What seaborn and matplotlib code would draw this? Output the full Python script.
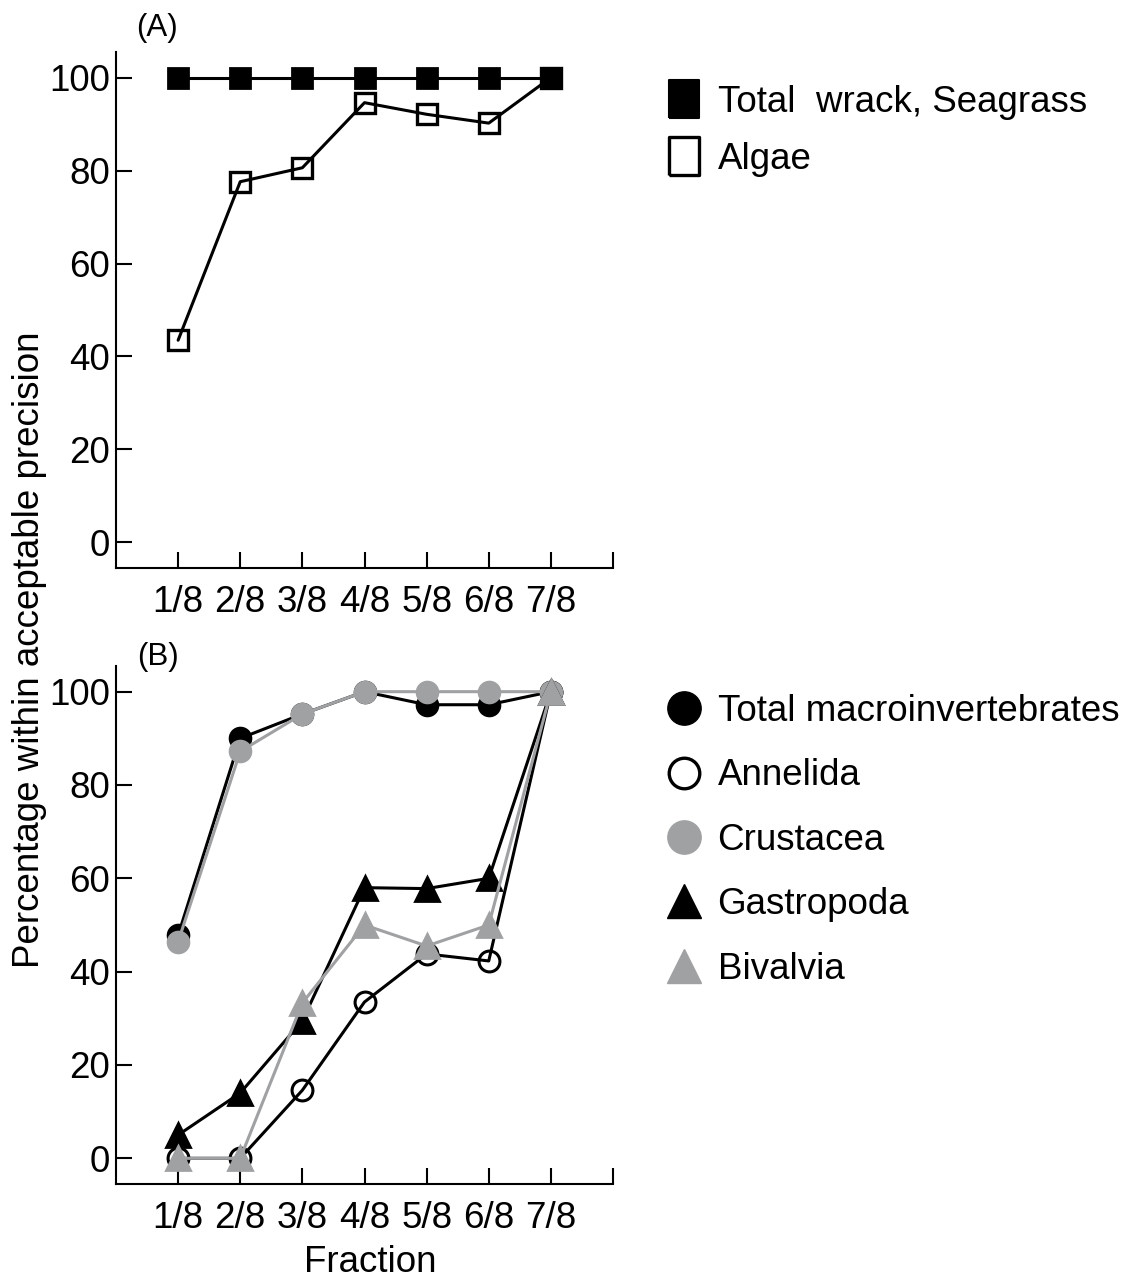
import matplotlib
matplotlib.use("Agg")
import matplotlib.pyplot as plt
from matplotlib import font_manager
from matplotlib.lines import Line2D
import pandas as pd
import seaborn as sns

# Sub-sample fraction of the wrack line
fractions = ["1/8", "2/8", "3/8", "4/8", "5/8", "6/8", "7/8"]
frac_pos = [1, 2, 3, 4, 5, 6, 7]

# (A) wrack components: % of estimates within acceptable precision
seagrass = [100, 100, 100, 100, 100, 100, 100]
algae = [43.5, 77.6, 80.6, 94.6, 92.1, 90.2, 100]

# (B) macroinvertebrate groups
total_macro = [47.8, 90.0, 95.2, 100, 97.2, 97.2, 100]
annelida = [0, 0, 14.6, 33.5, 43.8, 42.3, 100]
crustacea = [46.4, 87.2, 95.2, 100, 100, 100, 100]
gastropoda = [5, 14, 29.5, 58, 57.8, 60, 100]
bivalvia = [0, 0, 33.3, 50, 45.5, 50, 100]

sns.set_style("ticks")
names = {f.name for f in font_manager.fontManager.ttflist}
main_font = "Liberation Sans" if "Liberation Sans" in names else "DejaVu Sans"
tick_font = "Liberation Sans Narrow" if "Liberation Sans Narrow" in names else main_font
plt.rcParams["font.family"] = [main_font, "DejaVu Sans"]
plt.rcParams["text.color"] = "black"
plt.rcParams["axes.labelcolor"] = "black"
plt.rcParams["xtick.color"] = "black"
plt.rcParams["ytick.color"] = "black"

GRAY = "#a0a1a3"
FS = 26.5
LW = 2.2

fig = plt.figure(figsize=(11.33, 12.79), dpi=100)
W, H = 1133, 1279


def px_axes(left, top, right, bottom):
    return fig.add_axes([left / W, 1 - bottom / H, (right - left) / W, (bottom - top) / H])


axA = px_axes(116, 52, 613, 568)
axB = px_axes(116, 666, 613, 1184)


def series(ax, values, color, marker, ms, mfc, mec, mew=2.0, z=2):
    df = pd.DataFrame({"fraction": frac_pos, "pct": values})
    sns.lineplot(data=df, x="fraction", y="pct", ax=ax, color=color, lw=LW,
                 marker=marker, markersize=ms, markerfacecolor=mfc,
                 markeredgecolor=mec, markeredgewidth=mew, zorder=z,
                 legend=False)


# Panel A
series(axA, seagrass, "black", "s", 15, "black", "black", z=3)
series(axA, algae, "black", "s", 15, "none", "black", mew=2.4, z=2)

# Panel B
series(axB, total_macro, "black", "o", 15, "black", "black", z=2)
series(axB, annelida, "black", "o", 15, "none", "black", mew=2.2, z=3)
series(axB, crustacea, GRAY, "o", 15, GRAY, GRAY, z=4)
series(axB, gastropoda, "black", "^", 17, "black", "black", z=5)
series(axB, bivalvia, GRAY, "^", 17, GRAY, GRAY, z=6)

for ax in (axA, axB):
    ax.set_xlim(0, 8)
    ax.set_ylim(-5.5, 105.5)
    ax.set_xticks(frac_pos + [8])
    ax.set_xticklabels(fractions + [""])
    ax.set_yticks([0, 20, 40, 60, 80, 100])
    ax.set_xlabel("")
    ax.set_ylabel("")
    sns.despine(ax=ax)
    for s in ("left", "bottom"):
        ax.spines[s].set_linewidth(1.5)
        ax.spines[s].set_color("black")
    ax.tick_params(direction="in", length=11.3, width=1.5, color="black",
                   labelsize=FS, labelcolor="black")
    ax.tick_params(axis="y", pad=4.5)
    ax.tick_params(axis="x", pad=12)
    for lab in ax.get_xticklabels() + ax.get_yticklabels():
        lab.set_fontfamily([tick_font, "DejaVu Sans"])
    ax.set_facecolor("white")

fig.text(157 / W, 1 - 28 / H, "(A)", fontsize=22.5, ha="center", va="center")
fig.text(158 / W, 1 - 657 / H, "(B)", fontsize=22.5, ha="center", va="center")
fig.text(30 / W, 1 - 650 / H, "Percentage within acceptable precision",
         fontsize=FS, rotation=90, ha="center", va="center")
fig.text(370 / W, 1 - 1262 / H, "Fraction", fontsize=FS, ha="center", va="center")

rect = [(-0.75, -1), (0.75, -1), (0.75, 1), (-0.75, 1), (-0.75, -1)]
handlesA = [
    Line2D([], [], ls="none", marker=rect, markersize=28, mfc="black", mec="black", mew=1.5),
    Line2D([], [], ls="none", marker=rect, markersize=28, mfc="none", mec="black", mew=2.4),
]
labelsA = ["Total  wrack, Seagrass", "Algae"]
fig.legend(handlesA, labelsA, loc="upper left", bbox_to_anchor=(666 / W, 1 - 85 / H),
           frameon=False, fontsize=FS, handlelength=1.0, handletextpad=0.4,
           labelspacing=0.6, borderpad=0, borderaxespad=0)

handlesB = [
    Line2D([], [], ls="none", marker="o", markersize=24, mfc="black", mec="black"),
    Line2D([], [], ls="none", marker="o", markersize=22, mfc="none", mec="black", mew=2.4),
    Line2D([], [], ls="none", marker="o", markersize=24, mfc=GRAY, mec=GRAY),
    Line2D([], [], ls="none", marker="^", markersize=24, mfc="black", mec="black"),
    Line2D([], [], ls="none", marker="^", markersize=24, mfc=GRAY, mec=GRAY),
]
labelsB = ["Total macroinvertebrates", "Annelida", "Crustacea", "Gastropoda", "Bivalvia"]
fig.legend(handlesB, labelsB, loc="upper left", bbox_to_anchor=(666 / W, 1 - 694 / H),
           frameon=False, fontsize=FS, handlelength=1.0, handletextpad=0.4,
           labelspacing=0.8, borderpad=0, borderaxespad=0)

fig.savefig("out.png", dpi=100, facecolor="white")
